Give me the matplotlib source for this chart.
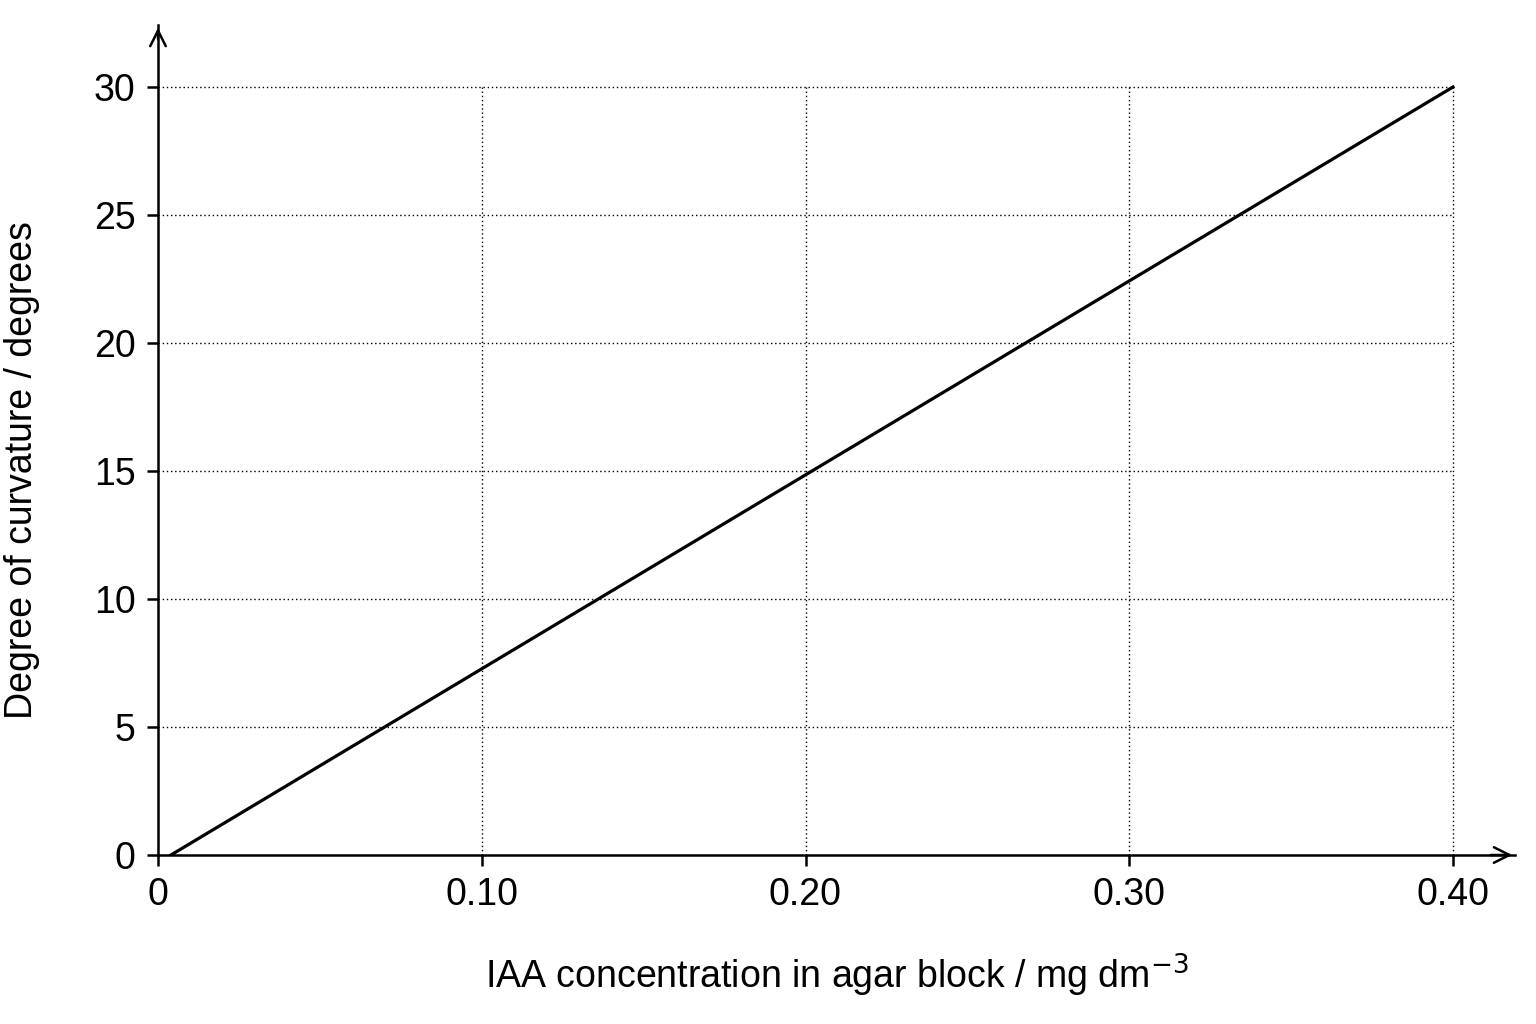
import matplotlib
matplotlib.use("Agg")
import matplotlib.pyplot as plt

x_vals = [0.004, 0.40]
y_vals = [0.0, 30.0]
x_ticks = [0, 0.10, 0.20, 0.30, 0.40]
x_labels = ["0", "0.10", "0.20", "0.30", "0.40"]
y_ticks = [0, 5, 10, 15, 20, 25, 30]

plt.rcParams['font.family'] = ['Liberation Sans', 'DejaVu Sans']
fig = plt.figure(figsize=(15.36, 10.24), dpi=100)
ax = fig.add_axes([158/1536, 1-855/1024, (1515-158)/1536, (855-25)/1024])
xmax = 0.40*(1515-158)/(1453-158)
ymax = 30*(855-25)/(855-87)
ax.set_xlim(0, xmax)
ax.set_ylim(0, ymax)

for t in x_ticks[1:]:
    ax.plot([t, t], [0, 30], color='black', lw=1.0, ls=(0, (1, 2)), zorder=1)
for t in y_ticks[1:]:
    ax.plot([0, 0.40], [t, t], color='black', lw=1.0, ls=(0, (1, 2)), zorder=1)

ax.plot(x_vals, y_vals, color='black', lw=2.3, zorder=3)

for s in ['top', 'right']:
    ax.spines[s].set_visible(False)
for s in ['left', 'bottom']:
    ax.spines[s].set_linewidth(1.8)
ax.annotate('', xy=(1.0, 0), xytext=(0.98, 0), xycoords='axes fraction',
            arrowprops=dict(arrowstyle='->', lw=1.8, mutation_scale=28))
ax.annotate('', xy=(0, 1.0), xytext=(0, 0.98), xycoords='axes fraction',
            arrowprops=dict(arrowstyle='->', lw=1.8, mutation_scale=28))

ax.set_xticks(x_ticks)
ax.set_xticklabels(x_labels)
ax.set_yticks(y_ticks)
ax.tick_params(direction='out', length=8, width=1.8, labelsize=27, pad=8)
ax.set_xlabel(r"IAA concentration in agar block / mg dm$^{-3}$", fontsize=27, labelpad=28)
ax.set_ylabel("Degree of curvature / degrees", fontsize=27)
ax.yaxis.set_label_coords(-0.087, (855-470)/(855-25))

fig.savefig("out.png", dpi=100)
